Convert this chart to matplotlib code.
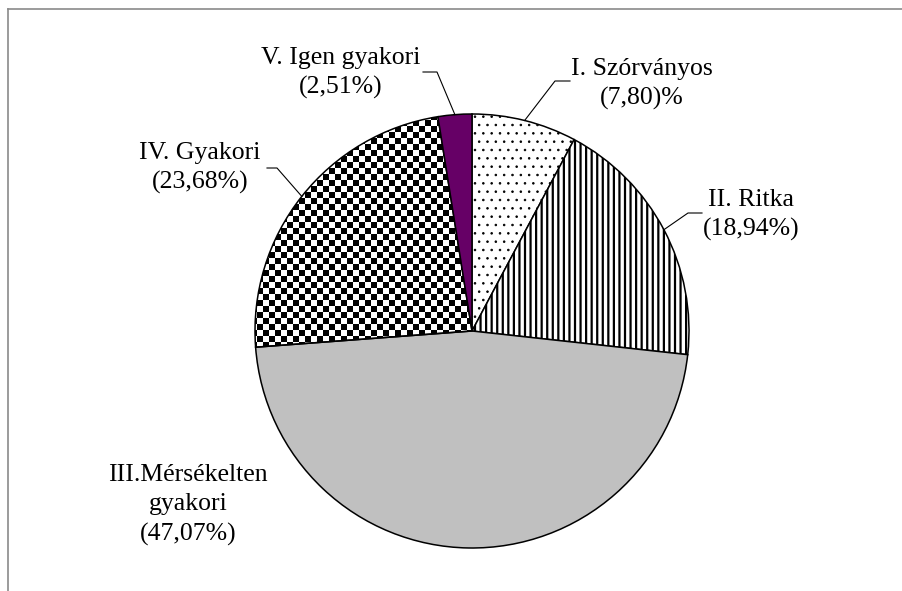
import numpy as np
import matplotlib
matplotlib.use("Agg")
import matplotlib.pyplot as plt
from matplotlib.lines import Line2D

# data
categories = ["I. Szórványos", "II. Ritka", "III.Mérsékelten\ngyakori",
              "IV. Gyakori", "V. Igen gyakori"]
shares = [7.80, 18.94, 47.07, 23.68, 2.51]
share_texts = ["(7,80)%", "(18,94%)", "(47,07%)", "(23,68%)", "(2,51%)"]

colors = ["white", "white", "#c0c0c0", "none", "#660066"]
hatches = ["..", "|||", None, None, None]

# label layout in image pixels (x, y from top)
label_pos = [(642, 84), (751, 215), (188, 505), (200, 168), (341, 73)]
elbow = [(555, 570, 81), (688, 702, 213), None, (277, 267, 168), (437, 423, 72)]

W, H = 903, 591
plt.rcParams['font.family'] = ['Liberation Serif', 'DejaVu Serif']
plt.rcParams['hatch.linewidth'] = 1.6

fig = plt.figure(figsize=(W / 100, H / 100), dpi=100)
ax = fig.add_axes([0, 0, 1, 1])

cx, cy, r = 472, H - 331, 217
wedges, _ = ax.pie(shares, colors=colors, hatch=hatches, startangle=90,
                   counterclock=False, center=(cx, cy), radius=r, frame=True,
                   wedgeprops=dict(edgecolor="black", linewidth=1.1))
if hasattr(wedges[0], "set_hatch_linewidth"):
    wedges[0].set_hatch_linewidth(0.6)

# checkerboard fill for IV
cell = 6
nx, ny = 90, 90
xs0, ys0 = cx - r - 10, cy - r - 10
board = (np.add.outer(np.arange(ny), np.arange(nx)) % 2).astype(float)
im = ax.imshow(board, cmap="gray", interpolation="nearest",
               extent=(xs0, xs0 + nx * cell, ys0, ys0 + ny * cell),
               zorder=0.5, origin="lower")
im.set_clip_path(wedges[3])

ax.set_xlim(0, W)
ax.set_ylim(0, H)
ax.set_aspect("equal")
ax.axis("off")

# labels and leader lines
for i, w in enumerate(wedges):
    lx, ly = label_pos[i]
    ax.text(lx, H - ly, categories[i] + "\n" + share_texts[i], ha="center",
            va="center", fontsize=18.5, linespacing=1.42)
    if elbow[i] is not None:
        mid = np.deg2rad((w.theta1 + w.theta2) / 2)
        ex, ey = cx + r * np.cos(mid), cy + r * np.sin(mid)
        bx, tx, yy = elbow[i]
        ax.plot([tx, bx, ex], [H - yy, H - yy, ey], color="black", lw=0.8)

# outer frame (partly cut off)
fig.add_artist(Line2D([8 / W, 1], [1 - 9 / H, 1 - 9 / H], color="#8a8a8a", lw=1.2))
fig.add_artist(Line2D([8 / W, 8 / W], [0, 1 - 9 / H], color="#8a8a8a", lw=1.2))

fig.savefig("out.png", dpi=100)
